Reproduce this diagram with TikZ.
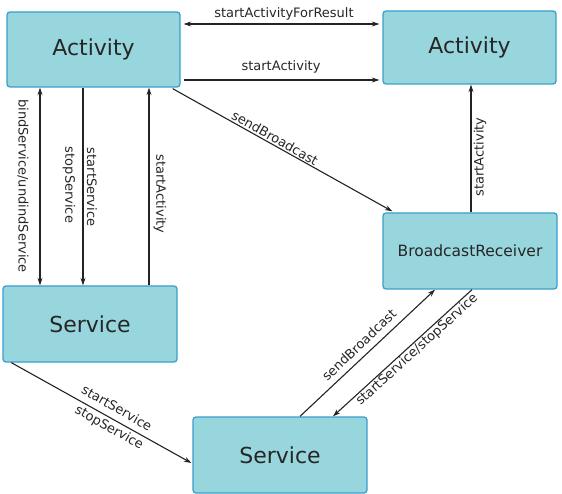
\documentclass[tikz,border=0pt]{standalone}
\usepackage{fontspec}
\setmainfont{DejaVu Sans}
\usetikzlibrary{arrows.meta,calc}
\definecolor{boxfill}{RGB}{152,214,221}
\definecolor{boxline}{RGB}{58,158,206}
\definecolor{edgec}{RGB}{35,35,35}
\tikzset{
  box/.style={draw=boxline, fill=boxfill, line width=1.3pt, rounded corners=3pt, inner sep=0pt},
  bigtxt/.style={font=\fontsize{22}{26}\selectfont, text=black!85},
  midtxt/.style={font=\fontsize{15.5}{18}\selectfont, text=black!85},
  lbl/.style={font=\fontsize{13}{15}\selectfont, text=black!85, inner sep=0pt},
  conn/.style={draw=edgec, line width=1.1pt, -{Stealth[length=7.5pt,width=5pt]}},
  conn2/.style={draw=edgec, line width=1.1pt, {Stealth[length=7.5pt,width=5pt]}-{Stealth[length=7.5pt,width=5pt]}},
}
\begin{document}
\begin{tikzpicture}[x=1pt,y=-1pt]
\useasboundingbox (0,0) rectangle (562,494);
\node[box,bigtxt,minimum width=173pt,minimum height=75pt] (A1) at (93.5,49.5) {Activity};
\node[box,bigtxt,minimum width=173pt,minimum height=73pt] (A2) at (469.5,47.5) {Activity};
\node[box,midtxt,minimum width=174pt,minimum height=76pt] (BR) at (470,251) {BroadcastReceiver};
\node[box,bigtxt,minimum width=174pt,minimum height=76pt] (S1) at (90,324) {Service};
\node[box,bigtxt,minimum width=174pt,minimum height=76pt] (S2) at (280,455) {Service};

% top horizontal
\draw[conn2] ($(A1.east |- 0,24)+(3,0)$) -- ($(A2.west |- 0,24)+(-3,0)$);
\draw[conn] ($(A1.east |- 0,80)+(3,0)$) -- ($(A2.west |- 0,80)+(-3,0)$);
\node[lbl] (l1) at (284,14) {startActivityForResult};
\node[lbl] (l2) at (281,67) {startActivity};

% verticals A1 - S1
\draw[conn2] (A1.south -| 40,0) -- (S1.north -| 40,0);
\draw[conn] (A1.south -| 83,0) -- (S1.north -| 83,0);
\draw[conn] (S1.north -| 149,0) -- (A1.south -| 149,0);
\node[lbl,rotate=-90] (l3) at (23,186) {bindService/undindService};
\node[lbl,rotate=-90] (l4) at (92,187) {startService};
\node[lbl,rotate=-90] (l5) at (69,185) {stopService};
\node[lbl,rotate=-90] (l6) at (160,194) {startActivity};

% A1 -> BR
\draw[conn] ($(A1.south east)+(-8,1)$) -- ($(BR.north west)+(10,-1)$);
\node[lbl,rotate=-29.3] (l7) at (275,138) {sendBroadcast};

% BR -> A2
\draw[conn] (BR.north -| 471,0) -- (A2.south -| 471,0);
\node[lbl,rotate=90] (l8) at (480,157) {startActivity};

% S1 -> S2
\draw[conn] ($(S1.south west)+(9,0)$) -- ($(S2.west)+(-1,8)$);
\node[lbl,rotate=-29.5] (l9) at (117,408) {startService};
\node[lbl,rotate=-29.5] (l10) at (109,428) {stopService};

% S2 <-> BR
\draw[conn] ($(S2.north)+(20,0)$) -- ($(BR.south)+(-35,0)$);
\node[lbl,rotate=43.5] (l11) at (359,345) {sendBroadcast};
\draw[conn] ($(BR.south)+(2,0)$) -- ($(S2.north)+(53,0)$);
\node[lbl,rotate=42.2] (l12) at (417,350) {startService/stopService};
\end{tikzpicture}
\end{document}
